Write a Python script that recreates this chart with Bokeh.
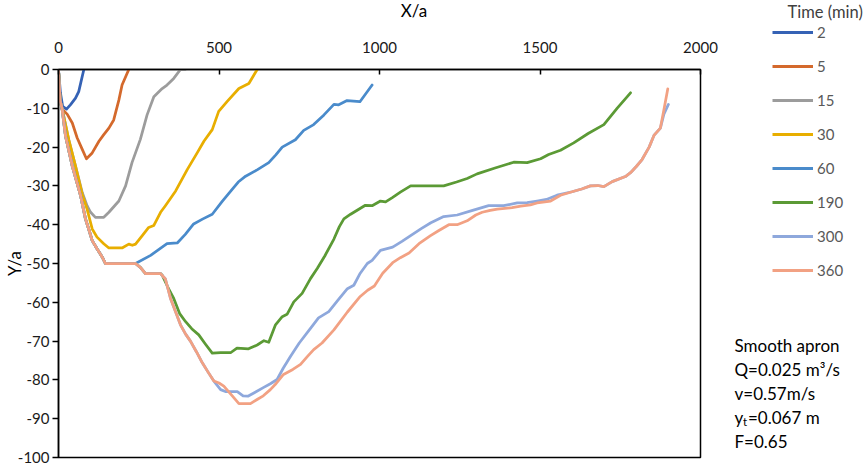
from bokeh.plotting import figure
from bokeh.layouts import row, column
from bokeh.models import Legend, LegendItem, Label, FixedTicker, Range1d, CustomJSTickFormatter
from bokeh.embed import file_html
from bokeh.resources import INLINE

FONT = "Lato"

# ---------------- data ----------------
times = ["2", "5", "15", "30", "60", "190", "300", "360"]
colors = ["#3562B5", "#D4692C", "#9C9C9C", "#E8AE00", "#4A8BCB", "#5B9A35", "#8EA8DC", "#F2A183"]

x_2 = [0, 6, 13, 25, 37, 53, 63, 70, 79]
y_2 = [0, -6, -9.5, -10.2, -9.1, -7.4, -5.7, -3.2, 0]

x_5 = [0, 5, 11, 27, 43, 58, 74, 87, 105, 126, 141, 157, 172, 188, 198, 219]
y_5 = [0, -8, -10.2, -11.5, -13.8, -17.6, -20.6, -23, -21.5, -18.5, -16.8, -15.1, -13, -7.9, -4, 0]

x_15 = [0, 5, 11, 32, 53, 74, 89, 100, 115, 141, 157, 188, 209, 229, 255, 276, 297, 323, 338, 359, 380, 395]
y_15 = [0, -8, -10, -18.1, -24.9, -31.7, -35.1, -36.8, -38.1, -38.1, -36.8, -33.9, -30, -24, -18, -11.7, -7, -4.9, -4, -2.3, 0, 0]

x_30 = [0, 5, 11, 32, 53, 74, 89, 105, 120, 141, 157, 198, 219, 230, 240, 261, 281, 297, 318, 333,
        365, 401, 432, 453, 479, 499, 525, 562, 593, 619]
y_30 = [0, -8, -10, -18.1, -24.9, -32.2, -36, -41.1, -43.2, -44.9, -46, -46, -45, -45.3, -45, -42.8, -40.7, -40.2, -36.8, -35.1,
        -31.3, -25.8, -21.5, -18.5, -15.5, -10.8, -8.3, -4.9, -3.6, 0]

x_60 = [0, 5, 11, 22, 43, 69, 84, 94, 105, 120, 136, 146, 200, 240, 287, 338, 370, 395, 421, 450, 479,
        510, 541, 560, 583, 620, 655, 677, 697, 738, 764, 795, 827, 858, 873, 899, 939, 977]
y_60 = [0, -8, -10, -17.2, -24.9, -32.6, -38.5, -41.1, -44.1, -46.2, -48.3, -50, -50, -50, -47.9, -44.9, -44.7, -42.5, -39.8, -38.5, -37.3,
        -34, -30.9, -29, -27.5, -25.8, -24, -22, -20, -18.1, -15.7, -14.2, -11.7, -9, -9.1, -8, -8.3, -4]

x_190 = [0, 5, 11, 22, 43, 69, 84, 94, 105, 120, 136, 146, 200, 240, 255, 271, 297, 318, 323, 340, 359, 378,
         396, 415, 437, 458, 479, 505, 536, 556, 592, 619, 640, 655, 676, 697, 712, 733, 759, 785, 806, 830,
         858, 875, 889, 910, 956, 977, 1003, 1019, 1040, 1065, 1097, 1200, 1240, 1273, 1304, 1360, 1418, 1460,
         1502, 1527, 1564, 1605, 1650, 1699, 1740, 1782]
y_190 = [0, -8, -10, -17.2, -24.9, -32.6, -38.5, -41.1, -44.1, -46.2, -48.3, -50, -50, -50, -51, -52.6, -52.6, -52.6, -53, -56, -59, -63,
         -65, -66.8, -68.4, -70.8, -73.1, -73, -73, -71.8, -72, -71, -69.9, -70.3, -65.8, -63.7, -63.1, -59.9, -57.7, -53.9, -51.3, -48,
         -43.7, -40.5, -38.5, -37.3, -35, -35.1, -33.9, -34.1, -33, -31.6, -30, -30, -29, -28.1, -26.9, -25.4, -23.9, -24,
         -23, -21.9, -20.8, -18.9, -16.5, -14.2, -10, -6]

x_300 = [0, 5, 11, 22, 43, 69, 84, 94, 105, 120, 136, 146, 200, 240, 255, 271, 297, 318, 333, 349, 365, 380,
         396, 411, 430, 448, 466, 484, 505, 520, 545, 557, 575, 590, 610, 638, 660, 681, 700, 723, 750, 785,
         810, 842, 870, 900, 920, 940, 962, 977, 1003, 1041, 1070, 1097, 1130, 1160, 1200, 1242, 1290, 1340,
         1387, 1429, 1460, 1491, 1520, 1553, 1600, 1630, 1657, 1680, 1699, 1725, 1766, 1782, 1800, 1818, 1840,
         1855, 1875, 1886, 1900]
y_300 = [0, -8, -10, -17.2, -24.9, -32.6, -38.5, -41.1, -44.1, -46.2, -48.3, -50, -50, -50, -51, -52.6, -52.6, -52.6, -54, -59, -62.5, -65.8,
         -68.2, -70, -72.8, -75.6, -78, -80.3, -82.5, -83, -83, -83, -84.1, -84.2, -83.3, -82, -81, -79.9, -77, -73.9, -70.5, -66.7,
         -64, -62.4, -59.5, -56.5, -55.6, -52.5, -50, -49.2, -46.6, -45.8, -44.3, -42.8, -41, -39.5, -37.9, -37.5, -36.3, -35.1,
         -35.1, -34.4, -34.3, -33.9, -33.5, -32.4, -31.5, -30.8, -30, -29.9, -30.2, -28.9, -27.6, -26.6, -25, -23.2, -20,
         -17, -15.1, -11.5, -9]

x_360 = [0, 5, 11, 22, 43, 69, 84, 94, 105, 120, 136, 146, 200, 240, 255, 271, 297, 318, 333, 349, 365, 380,
         396, 411, 430, 448, 466, 484, 500, 515, 540, 562, 598, 620, 638, 660, 675, 701, 730, 754, 775, 795,
         821, 858, 900, 940, 963, 984, 1010, 1041, 1065, 1092, 1123, 1159, 1185, 1216, 1242, 1273, 1300, 1320,
         1345, 1367, 1413, 1440, 1470, 1491, 1533, 1564, 1600, 1630, 1657, 1680, 1699, 1725, 1766, 1782, 1800,
         1818, 1840, 1855, 1875, 1886, 1898]
y_360 = [0, -8, -10, -17.2, -24.9, -32.6, -38.5, -41.1, -44.1, -46.2, -48.3, -50, -50, -50, -51, -52.6, -52.6, -52.6, -54, -59, -62.5, -65.8,
         -68.2, -70, -72.8, -75.6, -78, -80.3, -80.8, -81.6, -84, -86.1, -86.1, -85, -84.1, -82.5, -81.2, -78.6, -77.3, -76, -74, -72.2,
         -70.5, -67.1, -62.5, -58.5, -56.9, -55.8, -52.5, -49.8, -48.5, -47.3, -44.9, -42.8, -41.5, -40, -40, -39, -37.5, -36.8,
         -36.3, -36, -35.6, -35.2, -34.9, -34.4, -33.9, -32.4, -31.5, -30.8, -30, -29.9, -30.2, -28.9, -27.6, -26.6, -25,
         -23.2, -20, -17, -15.1, -10.4, -5]

series_x = [x_2, x_5, x_15, x_30, x_60, x_190, x_300, x_360]
series_y = [y_2, y_5, y_15, y_30, y_60, y_190, y_300, y_360]

x_ticks = [0, 500, 1000, 1500, 2000]
y_ticks = [0, -10, -20, -30, -40, -50, -60, -70, -80, -90, -100]

x_title = "X/a"
y_title = "Y/a"
legend_title = "Time (min)"
note_lines = ["Smooth apron", "Q=0.025 m\u00b3/s", "v=0.57m/s", None, "F=0.65"]

W_MAIN, W_SIDE, H = 720, 145, 466
H_TOP = 24

plain = CustomJSTickFormatter(code="return String(tick);")


def blank(width, height, yr=(0, 1)):
    f = figure(width=width, height=height, x_range=Range1d(0, 1), y_range=Range1d(*yr),
               x_axis_type=None, y_axis_type=None, output_backend="svg", toolbar_location=None,
               min_border=0, min_border_left=0, min_border_right=0, min_border_top=0, min_border_bottom=0)
    f.frame_align = False
    f.outline_line_color = None
    f.xgrid.visible = False
    f.ygrid.visible = False
    return f


# ---------------- strip above the chart: x-axis title ----------------
top = blank(W_MAIN, H_TOP)
top.add_layout(Label(x=413.5, y=H_TOP - 9.5, x_units="screen", y_units="screen", text=x_title,
                     text_font=FONT, text_font_size="17px", text_color="black",
                     text_align="center", text_baseline="middle"))

# ---------------- main chart ----------------
p = figure(width=W_MAIN, height=H - H_TOP, x_range=Range1d(0, 2000), y_range=Range1d(-100, 0),
           x_axis_location="above", output_backend="svg", toolbar_location=None,
           min_border_left=58, min_border_right=20, min_border_top=69 - H_TOP, min_border_bottom=9)
p.frame_align = False
p.xgrid.visible = False
p.ygrid.visible = False
p.outline_line_color = "black"
p.outline_line_width = 1.5
p.outline_line_alpha = 1.0

for ax in (p.xaxis[0], p.yaxis[0]):
    ax.axis_line_color = "black"
    ax.axis_line_width = 1.5
    ax.major_tick_line_color = "black"
    ax.major_tick_line_width = 1.5
    ax.minor_tick_line_color = None
    ax.major_label_text_font = FONT
    ax.major_label_text_font_size = "15px"
    ax.major_label_text_color = "#1a1a1a"
    ax.formatter = plain

p.xaxis[0].ticker = FixedTicker(ticks=x_ticks)
p.xaxis[0].major_tick_in = 5
p.xaxis[0].major_tick_out = 0
p.xaxis[0].major_label_standoff = 17

p.yaxis[0].ticker = FixedTicker(ticks=y_ticks)
p.yaxis[0].major_tick_in = 0
p.yaxis[0].major_tick_out = 6
p.yaxis[0].major_label_standoff = 3
p.yaxis[0].axis_label = y_title
p.yaxis[0].axis_label_standoff = -10
p.yaxis[0].axis_label_text_font = FONT
p.yaxis[0].axis_label_text_font_size = "17px"
p.yaxis[0].axis_label_text_font_style = "normal"
p.yaxis[0].axis_label_text_color = "black"

for xs, ys, c in zip(series_x, series_y, colors):
    p.line(xs, ys, line_color=c, line_width=2.75, line_join="round", line_cap="round")

# ---------------- side panel: legend + notes ----------------
s = blank(W_SIDE, H, yr=(1, 2))

# legend keys: the same series, drawn outside this panel's visible range
keys = [s.line(xs, ys, line_color=c, line_width=3) for xs, ys, c in zip(series_x, series_y, colors)]
legend = Legend(items=[LegendItem(label=t, renderers=[r]) for t, r in zip(times, keys)],
                location=(52, 186), orientation="vertical")
legend.border_line_alpha = 0
legend.background_fill_alpha = 0
legend.padding = 0
legend.margin = 0
legend.spacing = 14
legend.glyph_width = 41
legend.glyph_height = 20
legend.label_height = 20
legend.label_standoff = 4
legend.label_text_font = FONT
legend.label_text_font_size = "15px"
legend.label_text_color = "#595959"
legend.label_text_baseline = "middle"
s.add_layout(legend)


def side_label(px, py, text, size="17px", color="black"):
    # px, py: pixels from the top-left of the whole chart
    s.add_layout(Label(x=px - W_MAIN, y=H - py, x_units="screen", y_units="screen", text=text,
                       text_font=FONT, text_font_size=size, text_color=color,
                       text_align="left", text_baseline="middle"))


side_label(787, 11, legend_title, size="16.5px", color="#404040")
note_y = [345, 369, 393, 417, 441]
for txt, yy in zip(note_lines, note_y):
    if txt is not None:
        side_label(734, yy, txt)
side_label(734, 417, "y")
side_label(742.5, 421, "t", size="11.5px")
side_label(747.5, 417, "=0.067 m")

layout = row(column(top, p, spacing=0), s, spacing=0)
open("out.html", "w").write(file_html(layout, INLINE))
